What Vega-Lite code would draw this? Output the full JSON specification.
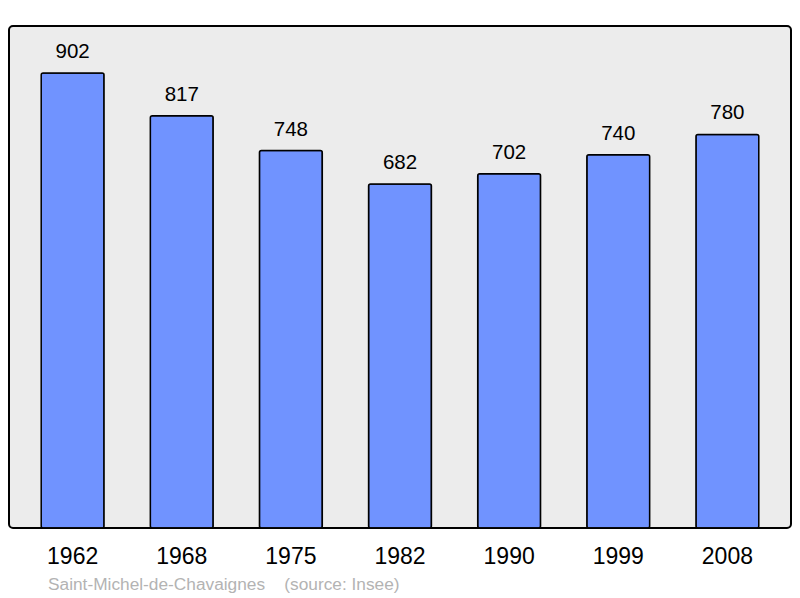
{
  "$schema": "https://vega.github.io/schema/vega-lite/v6.json",
  "width": 782,
  "height": 502,
  "autosize": {"type": "none"},
  "padding": {"left": 9, "top": 26, "right": 9, "bottom": 70},
  "background": "#ffffff",
  "view": {"fill": "#ececec", "stroke": "#000000", "strokeWidth": 2, "cornerRadius": 4},
  "config": {"font": "Liberation Sans"},
  "title": {
    "text": "Saint-Michel-de-Chavaignes\u00a0\u00a0\u00a0\u00a0(source: Insee)",
    "orient": "bottom",
    "anchor": "start",
    "frame": "group",
    "dx": 39,
    "offset": 8,
    "fontSize": 17.3,
    "fontWeight": "normal",
    "color": "#b3b3b3",
    "font": "Liberation Sans"
  },
  "data": {
    "values": [
      {"year": "1962", "pop": 902},
      {"year": "1968", "pop": 817},
      {"year": "1975", "pop": 748},
      {"year": "1982", "pop": 682},
      {"year": "1990", "pop": 702},
      {"year": "1999", "pop": 740},
      {"year": "2008", "pop": 780}
    ]
  },
  "encoding": {
    "x": {
      "field": "year",
      "type": "ordinal",
      "sort": null,
      "scale": {"paddingInner": 0.424, "paddingOuter": 0.295},
      "axis": {
        "title": null,
        "domain": false,
        "ticks": false,
        "labelAngle": 0,
        "labelFontSize": 23,
        "labelColor": "#000000",
        "labelPadding": 17,
        "labelFont": "Liberation Sans"
      }
    },
    "y": {
      "field": "pop",
      "type": "quantitative",
      "scale": {"domain": [0, 995], "nice": false},
      "axis": null
    }
  },
  "layer": [
    {
      "mark": {"type": "bar", "fill": "#7093ff", "stroke": "#000000", "strokeWidth": 1.5, "cornerRadius": 2}
    },
    {
      "mark": {"type": "text", "baseline": "alphabetic", "dy": -15, "fontSize": 20.5, "color": "#000000", "font": "Liberation Sans"},
      "encoding": {"text": {"field": "pop", "type": "quantitative"}}
    }
  ]
}
